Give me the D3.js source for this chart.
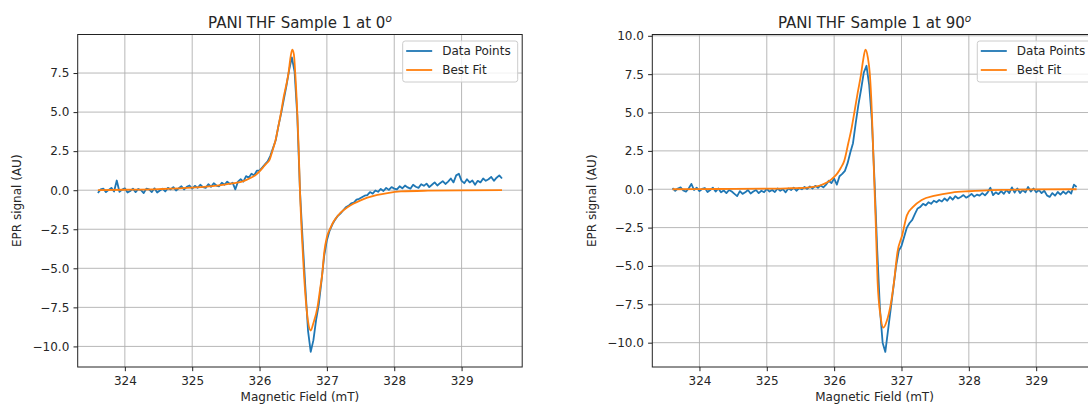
<!DOCTYPE html>
<html><head><meta charset="utf-8">
<script src="https://cdn.jsdelivr.net/npm/d3@7"></script>
<style>
html,body{margin:0;padding:0;background:#fff;}
svg{display:block;font-family:"DejaVu Sans",sans-serif;}
</style></head><body>
<svg id="chart" width="1088" height="404"></svg>
<script>
// ---- data ----
const fieldStart = 323.6, fieldStep = 0.04;   // sampling grid of the measured points (mT)
const xTicks = [324, 325, 326, 327, 328, 329];
const yTicks = [-10, -7.5, -5, -2.5, 0, 2.5, 5, 7.5, 10];
const seriesNames = ["Data Points", "Best Fit"];
const titles = ["PANI THF Sample 1 at 0", "PANI THF Sample 1 at 90"];
const xLabel = "Magnetic Field (mT)";
const yLabel = "EPR signal (AU)";

const data0 = [
 -0.18, 0.05, 0.1, -0.12, 0.02, 0.15, -0.08, 0.62, -0.1, 0.04,
 0.12, -0.15, -0.05, 0.1, -0.12, 0.08, 0.0, -0.18, 0.1, 0.05,
 -0.12, 0.12, -0.15, -0.02, 0.1, -0.08, 0.15, 0.05, 0.2, -0.02,
 0.12, 0.25, 0.05, 0.22, 0.3, 0.1, 0.28, 0.15, 0.35, 0.2,
 0.15, 0.38, 0.22, 0.45, 0.3, 0.25, 0.48, 0.35, 0.55, 0.4,
 0.48, 0.05, 0.55, 0.7, 0.55, 0.9, 0.8, 1.05, 0.95, 1.25,
 1.25, 1.45, 1.65, 1.85, 2.2, 2.7, 3.2, 4.1, 4.9, 5.8,
 6.7, 7.7, 8.5, 7.6, 4.8, 0.0, -3.2, -6.2, -9.0, -10.35,
 -9.6, -8.3, -7.3, -5.8, -4.2, -3.2, -2.6, -2.2, -1.9, -1.65,
 -1.5, -1.3, -1.1, -1.0, -0.85, -0.8, -0.6, -0.55, -0.45, -0.35,
 -0.32, -0.12, -0.22, -0.02, -0.1, 0.08, -0.05, 0.15, 0.02, 0.2,
 0.1, 0.05, 0.25, 0.12, 0.3, 0.18, 0.1, 0.35, 0.22, 0.15,
 0.38, 0.28, 0.42, 0.2, 0.35, 0.5, 0.3, 0.45, 0.58, 0.4,
 0.55, 0.75, 0.5, 0.95, 1.05, 0.6, 0.45, 0.7, 0.5, 0.62,
 0.35, 0.6, 0.5, 0.75, 0.6, 0.7, 0.85, 0.6, 0.8, 0.95,
 0.75
];
const fitX0 = [323.6, 324.0, 324.5, 325.0, 325.25, 325.5, 325.65, 325.75, 325.85, 325.95,
 326.0, 326.05, 326.1, 326.15, 326.19, 326.24, 326.28, 326.32, 326.36, 326.4,
 326.43, 326.46, 326.485, 326.51, 326.53, 326.56, 326.58, 326.6, 326.63, 326.66,
 326.69, 326.72, 326.76, 326.8, 326.86, 326.9, 326.93, 326.96, 327.0, 327.05,
 327.1, 327.15, 327.2, 327.3, 327.4, 327.5, 327.6, 327.75, 327.9, 328.1,
 328.5, 329.0, 329.6];
const fitY0 = [0.01, 0.03, 0.07, 0.16, 0.25, 0.38, 0.47, 0.57, 0.75, 1.0,
 1.2, 1.45, 1.7, 1.96, 2.5, 3.25, 4.1, 5.0, 6.0, 6.8,
 7.5, 8.5, 9.0, 8.7, 7.5, 5.0, 2.8, 0.0, -3.0, -5.4,
 -7.2, -8.4, -8.98, -8.5, -7.5, -6.3, -5.4, -4.0, -3.0, -2.45,
 -2.0, -1.7, -1.45, -1.1, -0.85, -0.65, -0.48, -0.3, -0.18, -0.08,
 -0.03, -0.01, 0.0];

const data90 = [
 0.08, -0.1, 0.05, 0.12, -0.08, -0.15, 0.05, 0.35, -0.05, 0.1,
 -0.12, 0.02, 0.08, -0.18, -0.05, 0.1, -0.15, 0.05, -0.2, -0.08,
 -0.25, -0.05, -0.15, -0.3, -0.45, -0.12, -0.3, -0.2, -0.05, -0.28,
 -0.15, -0.05, -0.25, -0.1, -0.2, 0.02, -0.15, -0.05, -0.18, 0.05,
 -0.1, 0.0, -0.2, 0.05, -0.05, 0.1, -0.1, 0.08, 0.0, 0.15,
 0.02, 0.18, 0.05, 0.22, 0.1, 0.25, 0.12, 0.3, 0.55, 0.4,
 0.7, 0.3, 0.85, 1.0, 1.2, 1.7, 2.4, 3.0, 4.3, 5.5,
 6.5, 7.6, 8.05, 6.8, 4.5, 0.5, -4.0, -7.8, -10.0, -10.6,
 -9.2, -7.8, -6.4, -5.0, -4.0, -3.7, -3.1, -2.5, -2.2, -2.0,
 -1.6, -1.25, -1.15, -0.95, -1.05, -0.85, -0.95, -0.75, -0.85, -0.7,
 -0.8, -0.6, -0.75, -0.5, -0.68, -0.45, -0.6, -0.5, -0.38, -0.55,
 -0.45, -0.3, -0.48, -0.35, -0.42, -0.25, -0.4, -0.2, 0.1, -0.38,
 -0.2, -0.32, -0.12, -0.3, -0.05, -0.25, 0.12, -0.22, 0.05, -0.25,
 -0.05, -0.2, 0.15, -0.15, 0.05, -0.2, -0.05, -0.25, -0.1, -0.4,
 -0.5, -0.25, -0.42, -0.18, -0.35, -0.15, -0.3, -0.12, -0.28, 0.3,
 0.15
];
const fitX90 = [323.6, 324.0, 324.5, 325.0, 325.3, 325.6, 325.8, 325.9, 326.0, 326.05,
 326.1, 326.15, 326.21, 326.26, 326.3, 326.35, 326.4, 326.43, 326.465, 326.5,
 326.53, 326.56, 326.58, 326.6, 326.62, 326.645, 326.69, 326.73, 326.78, 326.84,
 326.89, 326.94, 327.01, 327.08, 327.16, 327.3, 327.5, 327.75, 328.0, 328.5,
 329.0, 329.6];
const fitY90 = [0.0, 0.01, 0.02, 0.04, 0.06, 0.11, 0.26, 0.45, 0.8, 1.05,
 1.4, 1.85, 3.0, 4.0, 5.0, 6.3, 7.5, 8.4, 9.1, 8.6,
 7.5, 5.0, 2.5, 0.0, -2.5, -6.0, -8.3, -9.02, -8.6, -7.5,
 -6.0, -4.1, -3.0, -1.7, -1.2, -0.7, -0.42, -0.22, -0.13, -0.04,
 -0.01, 0.0];

// ---- layout ----
const svg = d3.select("#chart");
const W = 444.5, TOP = 34.5, BOTTOM = 367;
const colors = ["#1f77b4", "#ff7f0e"];
const textColor = "#262626";
const panels = [
  {left: 77.7, data: data0, fitX: fitX0, fitY: fitY0, title: titles[0]},
  {left: 652.3, data: data90, fitX: fitX90, fitY: fitY90, title: titles[1]}
];
function pad(ext) { const r = ext[1] - ext[0]; return [ext[0] - 0.05 * r, ext[1] + 0.05 * r]; }

panels.forEach(p => {
  const pts = p.data.map((v, i) => ({x: fieldStart + i * fieldStep, y: v}));
  const fit = p.fitX.map((x, i) => ({x: x, y: p.fitY[i]}));
  const all = pts.concat(fit);
  const xs = d3.scaleLinear().domain(pad(d3.extent(all, d => d.x))).range([p.left, p.left + W]);
  const ys = d3.scaleLinear().domain(pad(d3.extent(all, d => d.y))).range([BOTTOM, TOP]);
  const yt = yTicks.filter(t => t >= ys.domain()[0] - 1e-9 && t <= ys.domain()[1] + 1e-9);
  const g = svg.append("g");

  // grid
  g.append("g").selectAll("line").data(xTicks).join("line")
    .attr("x1", d => xs(d)).attr("x2", d => xs(d)).attr("y1", TOP).attr("y2", BOTTOM)
    .attr("stroke", "#b0b0b0").attr("stroke-width", 0.9);
  g.append("g").selectAll("line").data(yt).join("line")
    .attr("y1", d => ys(d)).attr("y2", d => ys(d)).attr("x1", p.left).attr("x2", p.left + W)
    .attr("stroke", "#b0b0b0").attr("stroke-width", 0.9);

  // series
  g.append("path").datum(pts)
    .attr("d", d3.line().x(d => xs(d.x)).y(d => ys(d.y)))
    .attr("fill", "none").attr("stroke", colors[0]).attr("stroke-width", 1.8)
    .attr("stroke-linejoin", "round");
  g.append("path").datum(fit)
    .attr("d", d3.line().curve(d3.curveMonotoneX).x(d => xs(d.x)).y(d => ys(d.y)))
    .attr("fill", "none").attr("stroke", colors[1]).attr("stroke-width", 1.8)
    .attr("stroke-linejoin", "round");

  // spines
  g.append("rect").attr("x", p.left).attr("y", TOP).attr("width", W).attr("height", BOTTOM - TOP)
    .attr("fill", "none").attr("stroke", "#222").attr("stroke-width", 1);

  // axes
  const xa = g.append("g").attr("transform", `translate(0,${BOTTOM})`)
    .call(d3.axisBottom(xs).tickValues(xTicks).tickFormat(d3.format("d"))
      .tickSizeInner(4.2).tickSizeOuter(0).tickPadding(5.3));
  const ya = g.append("g").attr("transform", `translate(${p.left},0)`)
    .call(d3.axisLeft(ys).tickValues(yt).tickFormat(d3.format(".1f"))
      .tickSizeInner(4.2).tickSizeOuter(0).tickPadding(4.2));
  [xa, ya].forEach(a => {
    a.select(".domain").remove();
    a.selectAll(".tick line").attr("stroke", "#222").attr("stroke-width", 1);
    a.selectAll(".tick text").attr("fill", textColor).style("font-size", "12px")
      .style("font-family", "'DejaVu Sans', sans-serif");
  });

  // axis labels
  g.append("text").attr("x", p.left + W / 2).attr("y", 400.8)
    .attr("text-anchor", "middle").attr("fill", textColor).style("font-size", "12px")
    .text(xLabel);
  g.append("text").attr("transform", `translate(${p.left - 56.5},${(TOP + BOTTOM) / 2}) rotate(-90)`)
    .attr("text-anchor", "middle").attr("fill", textColor).style("font-size", "12px")
    .text(yLabel);

  // title with superscript degree
  const t = g.append("text").attr("x", p.left + W / 2).attr("y", 28)
    .attr("text-anchor", "middle").attr("fill", textColor).style("font-size", "15px");
  t.append("tspan").text(p.title);
  t.append("tspan").attr("dy", -6).style("font-size", "10.5px").style("font-style", "italic").text("o");

  // legend
  const lg = g.append("g");
  const box = lg.append("rect").attr("rx", 2.5).attr("ry", 2.5)
    .attr("fill", "#fff").attr("fill-opacity", 0.8).attr("stroke", "#cccccc").attr("stroke-width", 1);
  const rows = [51, 70];
  let maxW = 0;
  const texts = seriesNames.map((name, i) =>
    lg.append("text").attr("y", rows[i]).attr("dominant-baseline", "central")
      .attr("fill", textColor).style("font-size", "12px").text(name));
  texts.forEach(tx => { maxW = Math.max(maxW, tx.node().getComputedTextLength()); });
  const boxW = 39.5 + maxW + 7;
  const bx = p.left + W - 4.5 - boxW;
  box.attr("x", bx).attr("y", 41).attr("width", boxW).attr("height", 41);
  texts.forEach(tx => tx.attr("x", bx + 39.5));
  seriesNames.forEach((name, i) => {
    lg.append("line").attr("x1", bx + 3.5).attr("x2", bx + 29.5)
      .attr("y1", rows[i]).attr("y2", rows[i])
      .attr("stroke", colors[i]).attr("stroke-width", 1.8);
  });
});
</script>
</body></html>
